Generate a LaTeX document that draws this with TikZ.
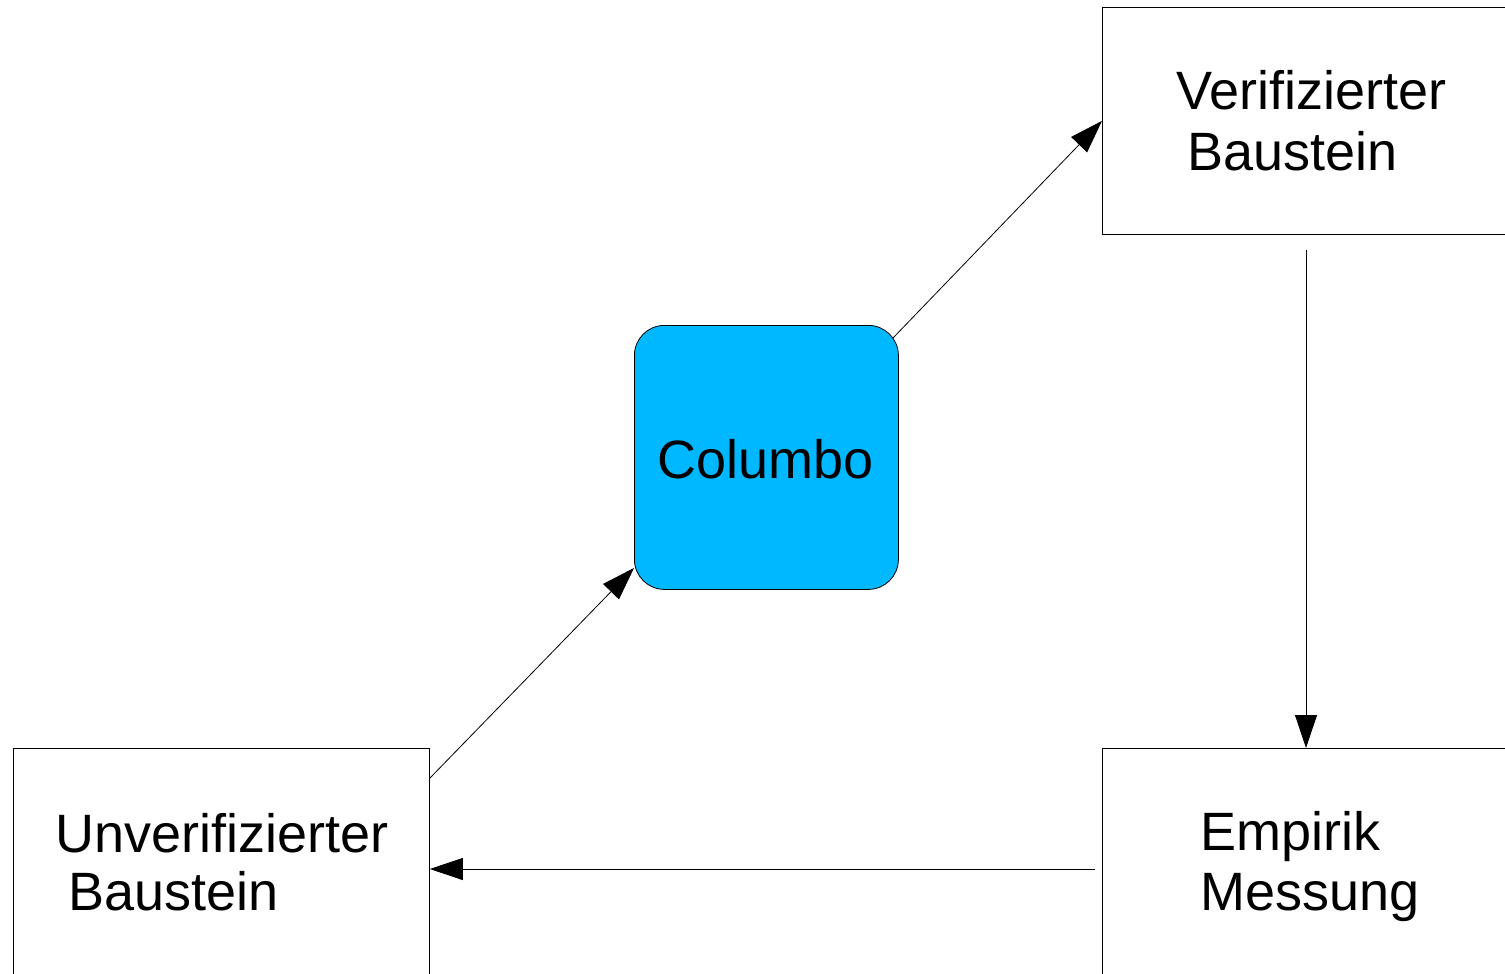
\documentclass[tikz,border=0pt]{standalone}
\usepackage{fontspec}
\setmainfont{Liberation Sans}
\usetikzlibrary{arrows.meta}
\definecolor{columbocyan}{RGB}{0,184,255}
\begin{document}
\begin{tikzpicture}[x=1pt,y=-1pt,
  box/.style={draw, line width=0.8pt, rectangle, inner sep=0pt, anchor=north west},
  lbl/.style={anchor=base west, inner sep=0pt, font=\fontsize{54}{60}\selectfont},
  arr/.style={line width=0.8pt, -{Triangle[length=33pt,width=22pt]}}]
\useasboundingbox (0,0) rectangle (1505,974);
\clip (0,0) rectangle (1505,974);
% boxes
\node[box, minimum width=420pt, minimum height=227pt] (verif) at (1102,7) {};
\node[box, minimum width=420pt, minimum height=250pt] (emp) at (1102,748) {};
\node[box, minimum width=416pt, minimum height=250pt] (unv) at (13,748) {};
\node[box, minimum width=264pt, minimum height=264pt, rounded corners=30pt, fill=columbocyan] (columbo) at (634,325) {};
% labels
\node[lbl] (tv1) at (1176,110) {Verifizierter};
\node[lbl] (tv2) at (1187,170) {Baustein};
\node[lbl] (te1) at (1200,850) {Empirik};
\node[lbl] (te2) at (1200,910) {Messung};
\node[lbl] (tu1) at (55,852) {Unverifizierter};
\node[lbl] (tu2) at (68,910) {Baustein};
\node[anchor=base, inner sep=0pt, font=\fontsize{54}{60}\selectfont] (tc) at (766,478) {Columbo};
% connectors
\coordinate (c1) at (893,338);
\coordinate (v1) at (1306,250);
\coordinate (e1) at (1095,869);
\coordinate (u1) at (430,778);
\coordinate (c2) at (634,568);
\draw[arr] (c1) -- (verif.west);
\draw[arr] (v1) -- (v1 |- emp.north);
\draw[arr] (e1) -- (e1 -| unv.east);
\draw[arr] (u1) -- (c2);
\end{tikzpicture}
\end{document}
